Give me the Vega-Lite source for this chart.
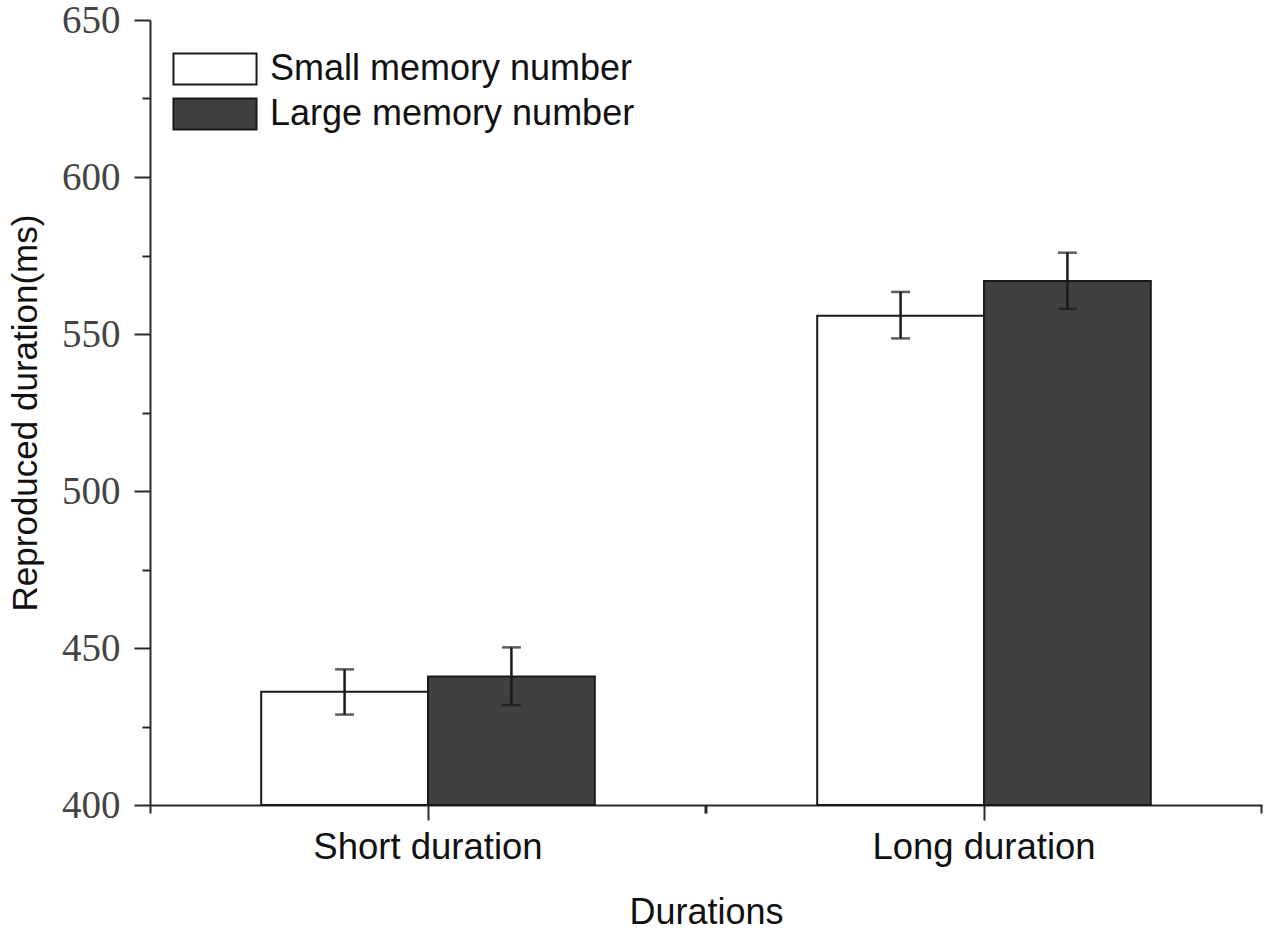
{
  "$schema": "https://vega.github.io/schema/vega-lite/v6.json",
  "width": 1112,
  "height": 785,
  "autosize": {"type": "none"},
  "padding": {"left": 150, "top": 20, "right": 8, "bottom": 131},
  "background": "white",
  "config": {
    "view": {"stroke": null},
    "axis": {"grid": false, "domainColor": "#2a2a2a", "domainWidth": 2, "tickColor": "#2a2a2a", "tickWidth": 2, "labelLimit": 0}
  },
  "data": {
    "values": [
      {"duration": "Short duration", "memory": "Small memory number", "mean": 436.1, "lo": 428.8, "hi": 443.2},
      {"duration": "Short duration", "memory": "Large memory number", "mean": 440.9, "lo": 431.8, "hi": 450.2},
      {"duration": "Long duration", "memory": "Small memory number", "mean": 555.8, "lo": 548.6, "hi": 563.4},
      {"duration": "Long duration", "memory": "Large memory number", "mean": 566.9, "lo": 558.0, "hi": 575.9}
    ]
  },
  "layer": [
    {
      "mark": {"type": "bar", "stroke": "#1a1a1a", "strokeWidth": 2},
      "encoding": {
        "x": {
          "field": "duration", "type": "nominal",
          "sort": ["Short duration", "Long duration"],
          "scale": {"paddingInner": 0.4, "paddingOuter": 0.2},
          "axis": {
            "orient": "bottom", "title": "Durations", "labelAngle": 0,
            "tickSize": 15, "labelPadding": 9,
            "labelFont": "Liberation Sans", "labelFontSize": 36.5, "labelColor": "#111",
            "titleFont": "Liberation Sans", "titleFontSize": 36, "titleFontWeight": "normal", "titleColor": "#111",
            "titlePadding": 30
          }
        },
        "xOffset": {"field": "memory", "type": "nominal", "sort": ["Small memory number", "Large memory number"]},
        "y": {
          "field": "mean", "type": "quantitative",
          "scale": {"domain": [400, 650], "zero": false, "nice": false},
          "axis": {
            "orient": "left", "title": "Reproduced duration(ms)",
            "values": [400, 450, 500, 550, 600, 650],
            "tickSize": 16, "labelPadding": 14,
            "labelFont": "Liberation Serif", "labelFontSize": 39, "labelColor": "#444",
            "titleFont": "Liberation Sans", "titleFontSize": 35, "titleFontWeight": "normal", "titleColor": "#111",
            "titlePadding": 18
          }
        },
        "y2": {"datum": 400},
        "fill": {
          "field": "memory", "type": "nominal",
          "scale": {"domain": ["Small memory number", "Large memory number"], "range": ["#ffffff", "#404040"]},
          "legend": {
            "title": null, "orient": "none", "legendX": 47, "legendY": 31, "padding": 0,
            "symbolType": "M-2.68,-1H2.68V1H-2.68Z", "symbolSize": 961,
            "symbolStrokeColor": "#1a1a1a", "symbolStrokeWidth": 2,
            "labelFont": "Liberation Sans", "labelFontSize": 36, "labelColor": "#111", "labelLimit": 0,
            "labelOffset": 37, "rowPadding": 5
          }
        }
      }
    },
    {
      "mark": {"type": "rule", "color": "#1a1a1a", "strokeWidth": 2.5},
      "encoding": {
        "x": {
          "field": "duration", "type": "nominal",
          "sort": ["Short duration", "Long duration"],
          "axis": {"orient": "bottom", "title": null, "labels": false, "domain": false, "bandPosition": -0.3333, "tickSize": 8}
        },
        "xOffset": {"field": "memory", "type": "nominal", "sort": ["Small memory number", "Large memory number"]},
        "y": {
          "field": "lo", "type": "quantitative",
          "axis": {"orient": "left", "title": null, "labels": false, "domain": false, "values": [425, 475, 525, 575, 625], "tickSize": 8}
        },
        "y2": {"field": "hi"}
      }
    },
    {
      "mark": {"type": "tick", "color": "#1a1a1a", "thickness": 2.5, "size": 19},
      "encoding": {
        "x": {
          "field": "duration", "type": "nominal",
          "sort": ["Short duration", "Long duration"],
          "axis": {"orient": "bottom", "title": null, "labels": false, "domain": false, "bandPosition": 1.3333, "tickSize": 8}
        },
        "xOffset": {"field": "memory", "type": "nominal", "sort": ["Small memory number", "Large memory number"]},
        "y": {"field": "lo", "type": "quantitative", "axis": null}
      }
    },
    {
      "mark": {"type": "tick", "color": "#1a1a1a", "thickness": 2.5, "size": 19},
      "encoding": {
        "x": {
          "field": "duration", "type": "nominal",
          "sort": ["Short duration", "Long duration"],
          "axis": null
        },
        "xOffset": {"field": "memory", "type": "nominal", "sort": ["Small memory number", "Large memory number"]},
        "y": {"field": "hi", "type": "quantitative", "axis": null}
      }
    }
  ],
  "resolve": {"axis": {"x": "independent", "y": "independent"}}
}
